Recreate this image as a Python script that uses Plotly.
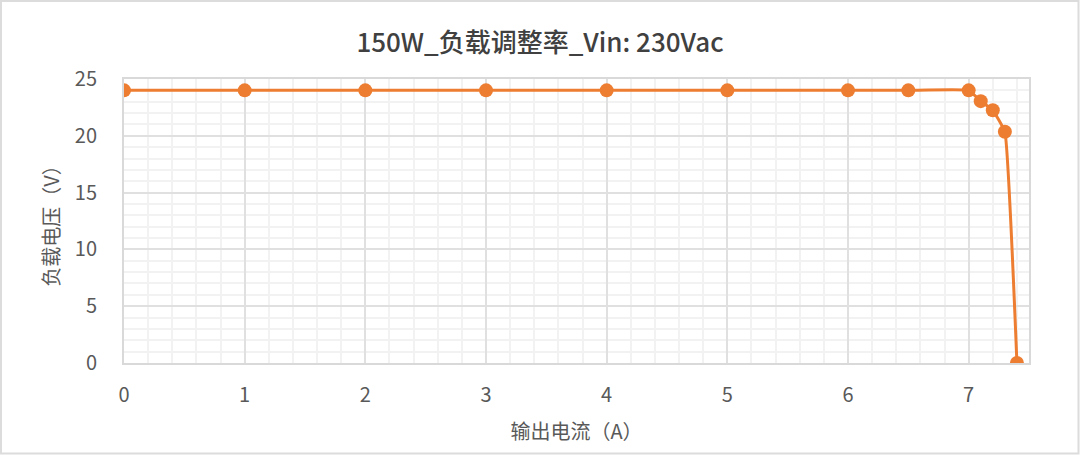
import plotly.graph_objects as go

# 输出电流 (A) / 负载电压 (V)
current_a = [0, 1, 2, 3, 4, 5, 6, 6.5, 7, 7.1, 7.2, 7.3, 7.4]
voltage_v = [24.0, 24.0, 24.0, 24.0, 24.0, 24.0, 24.0, 24.0, 24.0, 23.05, 22.25, 20.35, 0.0]

x_ticks = [0, 1, 2, 3, 4, 5, 6, 7]
y_ticks = [0, 5, 10, 15, 20, 25]

ORANGE = "#ED7D31"
FONT = "Noto Sans CJK SC"

W, H = 1080, 455
ML, MR, MT, MB = 124, 51, 79, 92

fig = go.Figure()
fig.add_trace(go.Scatter(
    x=current_a, y=voltage_v,
    mode="lines+markers",
    line=dict(color=ORANGE, width=3, shape="spline", smoothing=0.3),
    marker=dict(color=ORANGE, size=14),
    showlegend=False,
))

grid_major = "#e0e0e0"
grid_minor = "#f2f2f2"

fig.update_xaxes(
    range=[0, 7.5], tickvals=x_ticks, showgrid=True, gridcolor=grid_major, gridwidth=2,
    minor=dict(dtick=0.2, tick0=0, showgrid=True, gridcolor=grid_minor, gridwidth=2),
    showline=True, linecolor="#d9d9d9", linewidth=2, mirror=True, zeroline=False,
    tickfont=dict(size=20, color="#595959"), ticks="", ticklabelstandoff=13,
    title=dict(text="输出电流（A）", font=dict(size=20, color="#595959"), standoff=18),
)
fig.update_yaxes(
    range=[0, 25], tickvals=y_ticks, showgrid=True, gridcolor=grid_major, gridwidth=2,
    minor=dict(dtick=1, tick0=0, showgrid=True, gridcolor=grid_minor, gridwidth=2),
    showline=True, linecolor="#d9d9d9", linewidth=2, mirror=True, zeroline=False,
    tickfont=dict(size=20, color="#595959"), ticks="", ticklabelstandoff=21,
    title=dict(text="负载电压（V）", font=dict(size=20, color="#595959"), standoff=10),
)

pw, ph = W - ML - MR, H - MT - MB
fig.add_shape(
    type="rect", xref="paper", yref="paper", layer="below",
    x0=-ML / pw + 1 / pw, x1=1 + (MR - 1.5) / pw,
    y0=-MB / ph + 1.5 / ph, y1=1 + (MT - 1) / ph,
    line=dict(color="#dcdcdc", width=2), fillcolor="rgba(0,0,0,0)",
)

fig.update_layout(
    width=W, height=H,
    margin=dict(l=ML, r=MR, t=MT, b=MB),
    title=dict(text="150W_负载调整率_Vin: 230Vac", x=0.5, xanchor="center", y=0.905, yanchor="middle",
               font=dict(size=26, color="#404040", family=FONT, weight=500)),
    font=dict(family=FONT, color="#595959"),
    plot_bgcolor="white", paper_bgcolor="white",
)

# page body has a default 8px margin; drop it so the figure sits at 0,0
fig.write_html("out.html", config={"displayModeBar": False},
               post_script="document.body.style.margin='0';")
